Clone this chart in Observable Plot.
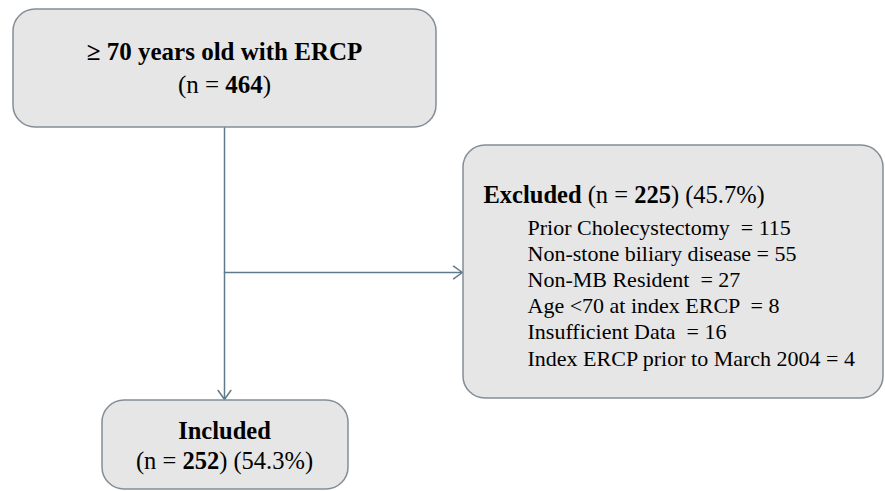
<!DOCTYPE html>
<html>
<head>
<meta charset="utf-8">
<script src="https://cdn.jsdelivr.net/npm/d3@7"></script>
<script src="https://cdn.jsdelivr.net/npm/@observablehq/plot@0.6"></script>
<style>
  html, body { margin: 0; padding: 0; background: #ffffff; }
  svg text, svg tspan { white-space: pre; }
</style>
</head>
<body>
<div id="chart"></div>
<script>
// ---- data ----
const totalLabel = "≥ 70 years old with ERCP";
const totalN = 464;
const excludedLabel = "Excluded";
const excludedN = 225;
const excludedPct = 45.7;
const includedLabel = "Included";
const includedN = 252;
const includedPct = 54.3;
const reasons = [
  "Prior Cholecystectomy  = ",
  "Non-stone biliary disease = ",
  "Non-MB Resident  = ",
  "Age <70 at index ERCP  = ",
  "Insufficient Data  = ",
  "Index ERCP prior to March 2004 = "
];
const reasonCounts = [115, 55, 27, 8, 16, 4];

// ---- layout (pixel space, y down) ----
const layout = {
  top: {x1: 13, x2: 436, y1: 9, y2: 127},
  excl: {x1: 463, x2: 883, y1: 145, y2: 398},
  incl: {x1: 102, x2: 348, y1: 400, y2: 489},
  stemX: 224, branchY: 272
};

const boxes = [layout.top, layout.excl, layout.incl];

const arrows = [
  {x1: layout.stemX, y1: layout.top.y2, x2: layout.stemX, y2: layout.incl.y1 - 1},
  {x1: layout.stemX, y1: layout.branchY, x2: layout.excl.x1 - 1, y2: layout.branchY}
];

// text rows: segments [text, bold]
const rows = [
  {x: 224, y: 59, anchor: "middle", size: 25, seg: [[totalLabel, true]]},
  {x: 224, y: 92, anchor: "middle", size: 25, seg: [["(n = ", false], [String(totalN), true], [")", false]]},
  {x: 483, y: 202, anchor: "start", size: 24.5, seg: [[excludedLabel, true], [" (n = ", false], [String(excludedN), true], [`) (${excludedPct}%)`, false]]},
  ...reasons.map((r, i) => ({x: 527, y: 234 + i * 26.2, anchor: "start", size: 22, seg: [[r + reasonCounts[i], false]]})),
  {x: 224, y: 438, anchor: "middle", size: 24.5, seg: [[includedLabel, true]]},
  {x: 224, y: 468, anchor: "middle", size: 24.5, seg: [["(n = ", false], [String(includedN), true], [`) (${includedPct}%)`, false]]}
];

const lineColor = "#5f7a8b";

const plot = Plot.plot({
  width: 885,
  height: 491,
  margin: 0,
  x: {domain: [0, 885], axis: null},
  y: {domain: [491, 0], axis: null},
  style: {fontFamily: "Liberation Serif, serif", background: "#ffffff"},
  marks: [
    Plot.arrow(arrows, {x1: "x1", y1: "y1", x2: "x2", y2: "y2", stroke: lineColor, strokeWidth: 1.5, headLength: 11, headAngle: 70}),
    Plot.rect(boxes, {x1: "x1", x2: "x2", y1: "y1", y2: "y2", fill: "#e6e6e6", stroke: "#858d96", strokeWidth: 1.5, rx: 22}),
    Plot.text(rows, {
      x: "x", y: "y",
      text: d => d.seg.map(s => s[0]).join(""),
      textAnchor: d => d.anchor,
      lineAnchor: "bottom",
      fill: "#000000",
      fontSize: d => d.size
    })
  ]
});

// fix text anchors, sizes, and mixed bold segments
const texts = d3.select(plot).selectAll('g[aria-label="text"] text').nodes();
texts.forEach((node, i) => {
  const d = rows[i];
  const sel = d3.select(node);
  sel.attr("text-anchor", d.anchor).attr("font-size", d.size)
     .attr("font-family", "Liberation Serif, serif");
  sel.text(null);
  d.seg.forEach(([t, b]) => {
    sel.append("tspan").attr("font-weight", b ? "bold" : "normal").text(t);
  });
});

document.getElementById("chart").appendChild(plot);
</script>
</body>
</html>
